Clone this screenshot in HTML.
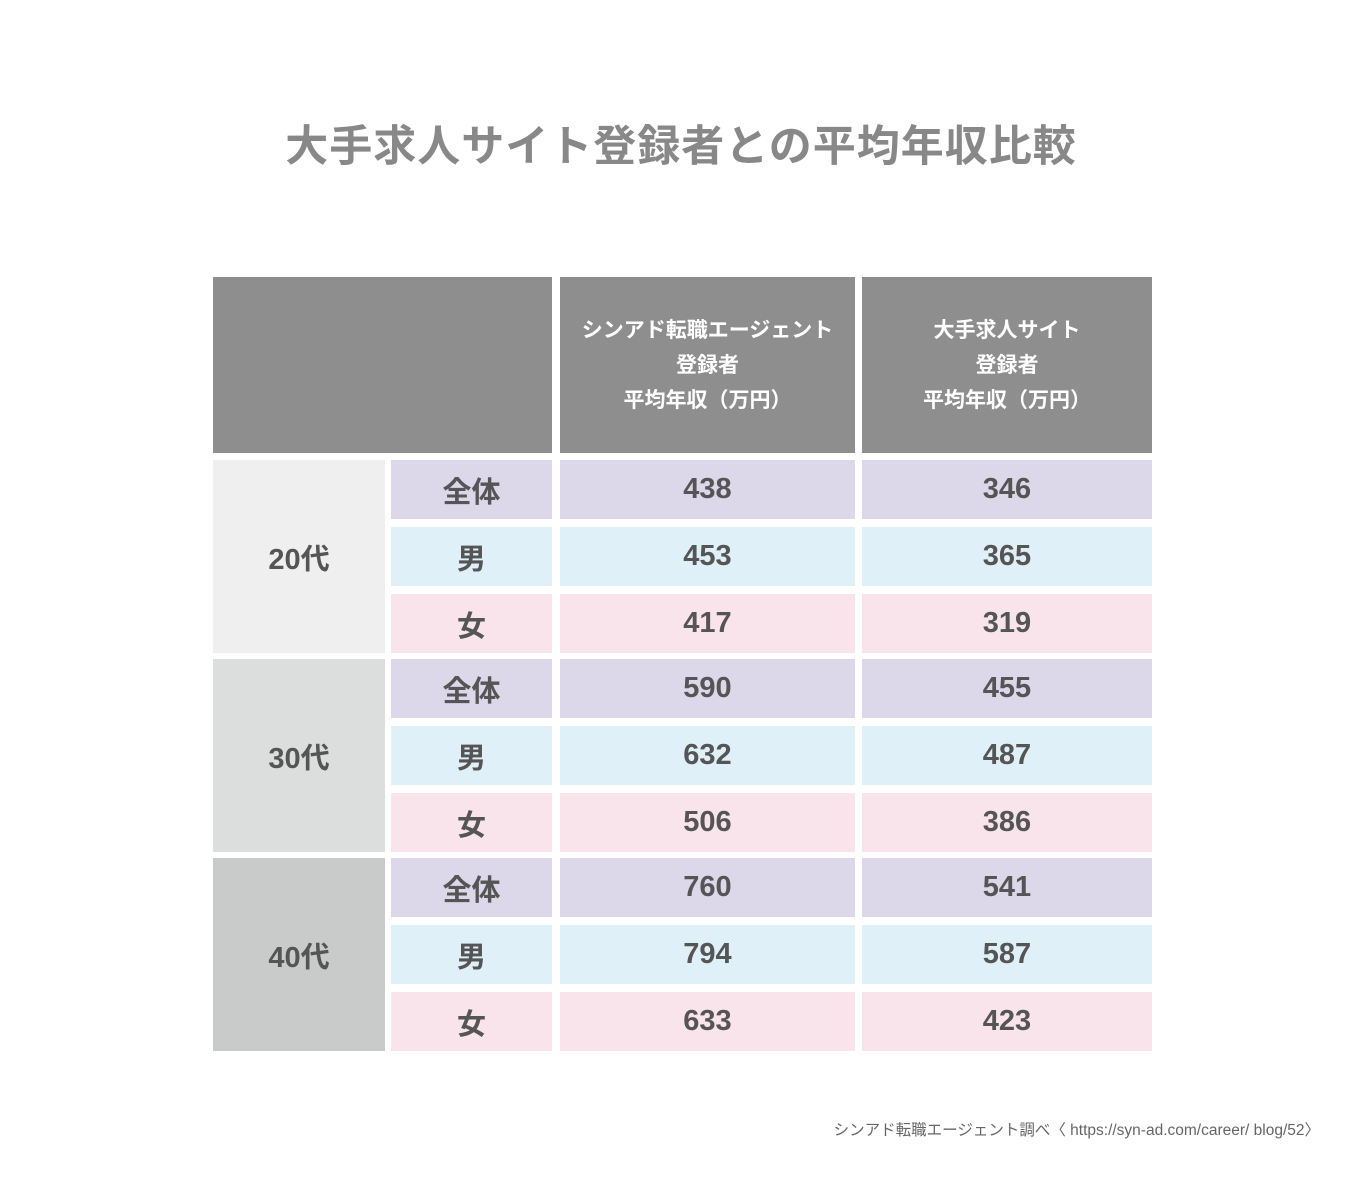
<!DOCTYPE html>
<html><head><meta charset="utf-8"><style>
body{margin:0;width:1362px;height:1200px;background:#fff;position:relative;overflow:hidden;font-family:"Liberation Sans","Noto Sans CJK JP",sans-serif;color:#555;}
.c{position:absolute;display:flex;align-items:center;justify-content:center;text-align:center;font-weight:bold;}
#title{position:absolute;left:0;width:1362px;top:112px;text-align:center;font-size:43px;font-weight:bold;color:#888;letter-spacing:1px;}
#foot{position:absolute;right:42px;top:1118px;font-size:15.5px;color:#666;}
</style></head><body>
<div id="title">大手求人サイト登録者との平均年収比較</div>
<div class="c" style="left:213px;top:277px;width:339px;height:176px;background:#8e8e8e"></div>
<div class="c" style="left:560px;top:277px;width:295px;height:176px;background:#8e8e8e;color:#fff;font-size:21px;line-height:35px">シンアド転職エージェント<br>登録者<br>平均年収（万円）</div>
<div class="c" style="left:862px;top:277px;width:290px;height:176px;background:#8e8e8e;color:#fff;font-size:21px;line-height:35px">大手求人サイト<br>登録者<br>平均年収（万円）</div>
<div id="tbl"></div>
<div id="foot">シンアド転職エージェント調べ〈 https://syn-ad.com/career/ blog/52〉</div>
<script>
const groups=["20代","30代","40代"];
const subs=["全体","男","女"];
const agentValues=[438,453,417,590,632,506,760,794,633];
const siteValues=[346,365,319,455,487,386,541,587,423];
const groupColors=["#efefef","#dcdddd","#c9caca"];
const subColors=["#dcd8ea","#dff0f8","#f9e4ec"];
const tbl=document.getElementById('tbl');
function cell(x,y,w,h,bg,txt,fs,name){
 const d=document.createElement('div');d.className='c';
 
 
 d.style.cssText=`left:${x}px;top:${y}px;width:${w}px;height:${h}px;background:${bg};font-size:${fs}px`;
 d.textContent=txt;tbl.appendChild(d);
}
const top0=460,rowH=59,gap=8,groupGap=6;
groups.forEach((g,gi)=>{
 const gy=top0+gi*(3*rowH+2*gap+groupGap);
 cell(213,gy,172,3*rowH+2*gap,groupColors[gi],g,29,'group-label');
 subs.forEach((s,si)=>{
  const y=gy+si*(rowH+gap);const i=gi*3+si;
  cell(391,y,161,rowH,subColors[si],s,29,'sub-label');
  cell(560,y,295,rowH,subColors[si],agentValues[i],29,'agent-value');
  cell(862,y,290,rowH,subColors[si],siteValues[i],29,'site-value');
 });
});
</script>
</body></html>
